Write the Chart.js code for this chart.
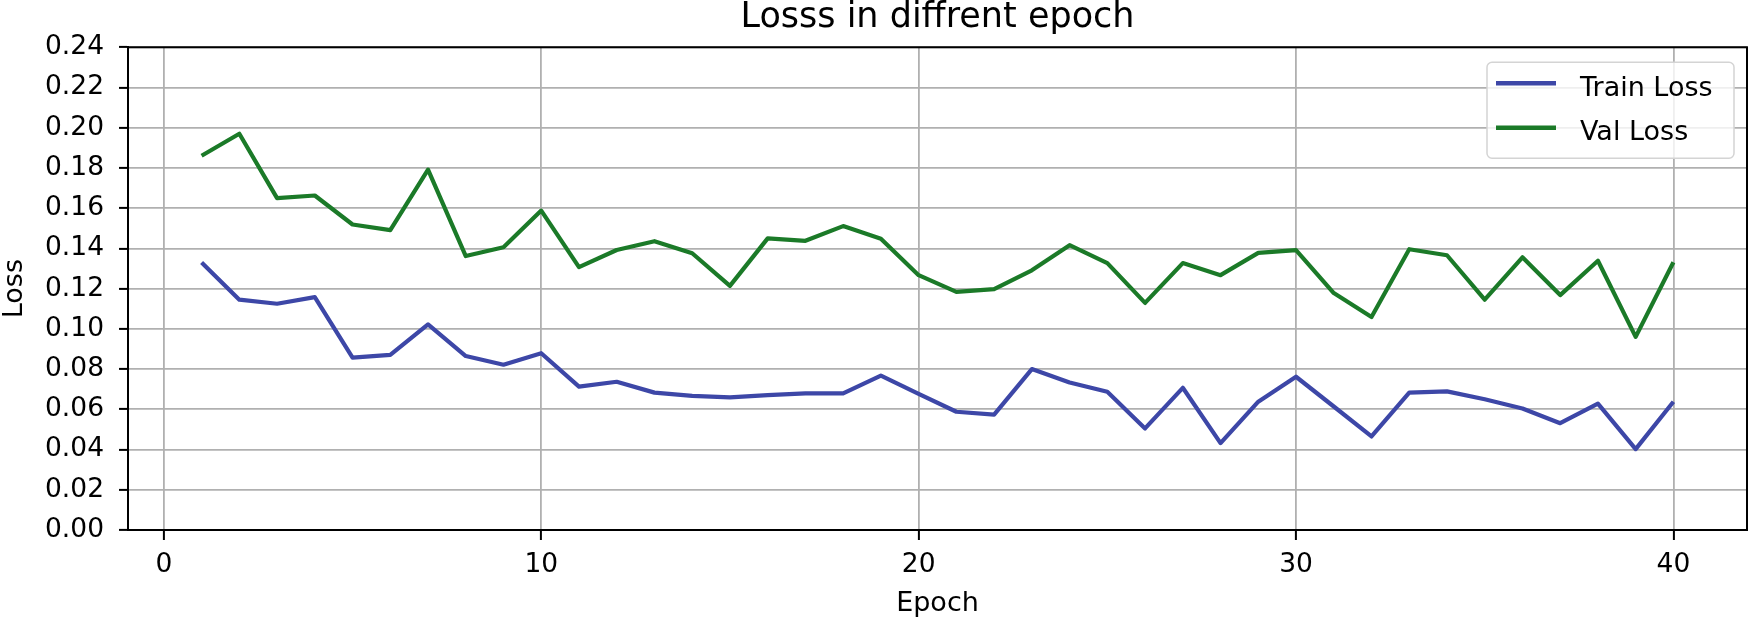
<!DOCTYPE html>
<html>
<head>
<meta charset="utf-8">
<script src="https://cdn.jsdelivr.net/npm/chart.js@4/dist/chart.umd.min.js"></script>
<style>
  html, body { margin: 0; padding: 0; background: #fff; }
  .chart-wrap { width: 1755px; height: 625px; position: relative; }
</style>
</head>
<body>
<div class="chart-wrap"><canvas id="loss-chart"></canvas></div>
<script>
const epochs = [1, 2, 3, 4, 5, 6, 7, 8, 9, 10, 11, 12, 13, 14, 15, 16, 17, 18, 19, 20,
  21, 22, 23, 24, 25, 26, 27, 28, 29, 30, 31, 32, 33, 34, 35, 36, 37, 38, 39, 40]

const trainLoss = [0.1330, 0.1145, 0.1125, 0.1158, 0.0857, 0.0871, 0.1022, 0.0865, 0.0822, 0.0879,
  0.0713, 0.0737, 0.0683, 0.0667, 0.0659, 0.0671, 0.0679, 0.0679, 0.0768, 0.0677,
  0.0588, 0.0574, 0.0800, 0.0733, 0.0687, 0.0505, 0.0707, 0.0432, 0.0638, 0.0762,
  0.0614, 0.0465, 0.0683, 0.0689, 0.0650, 0.0604, 0.0531, 0.0628, 0.0402, 0.0638]

const valLoss = [0.1861, 0.1970, 0.1650, 0.1663, 0.1519, 0.1491, 0.1792, 0.1362, 0.1406, 0.1588,
  0.1307, 0.1392, 0.1436, 0.1376, 0.1214, 0.1450, 0.1438, 0.1511, 0.1448, 0.1267,
  0.1184, 0.1198, 0.1291, 0.1416, 0.1327, 0.1129, 0.1327, 0.1267, 0.1378, 0.1392,
  0.1178, 0.1059, 0.1396, 0.1366, 0.1145, 0.1356, 0.1168, 0.1339, 0.0960, 0.1331]

const xTicks = [0, 10, 20, 30, 40]
const yTicks = [0, 0.02, 0.04, 0.06, 0.08, 0.10, 0.12, 0.14, 0.16, 0.18, 0.20, 0.22, 0.24]

const FONT = 'DejaVu Sans'
const toPoints = (values) => values.map((v, i) => ({x: epochs[i], y: v}))

// black box round the plot area, like the matplotlib spines
const framePlugin = {
  id: 'frame',
  afterDatasetsDraw(chart) {
    const {ctx, chartArea: a} = chart
    ctx.save()
    ctx.strokeStyle = '#000'
    ctx.lineWidth = 2
    ctx.strokeRect(a.left, a.top, a.right - a.left, a.bottom - a.top)
    ctx.restore()
  }
}

// legend drawn inside the plot, upper right
const insideLegend = {
  id: 'insideLegend',
  afterDraw(chart) {
    const {ctx, chartArea: a} = chart
    const w = 247, h = 96
    const x = a.right - 13 - w
    const y = a.top + 15
    ctx.save()
    ctx.beginPath()
    ctx.roundRect(x, y, w, h, 5)
    ctx.fillStyle = 'rgba(255,255,255,0.8)'
    ctx.fill()
    ctx.strokeStyle = '#d4d4d4'
    ctx.lineWidth = 1.5
    ctx.stroke()

    ctx.font = '27px "' + FONT + '"'
    ctx.textBaseline = 'alphabetic'
    ctx.textAlign = 'left'
    chart.data.datasets.forEach((ds, i) => {
      const ly = y + 21 + i * 44.5
      ctx.beginPath()
      ctx.moveTo(x + 9, ly)
      ctx.lineTo(x + 69, ly)
      ctx.strokeStyle = ds.borderColor
      ctx.lineWidth = 4.5
      ctx.lineCap = 'butt'
      ctx.stroke()
      ctx.fillStyle = '#000'
      ctx.fillText(ds.label, x + 93, ly + 12.5)
    })
    ctx.restore()
  }
}

new Chart(document.getElementById('loss-chart'), {
  type: 'line',
  data: {
    datasets: [{
      label: 'Train Loss',
      data: toPoints(trainLoss),
      borderColor: '#3d47a7',
      backgroundColor: '#3d47a7',
      borderWidth: 4.2,
      borderJoinStyle: 'round',
      pointRadius: 0,
      tension: 0,
    },
    {
      label: 'Val Loss',
      data: toPoints(valLoss),
      borderColor: '#1b7a28',
      backgroundColor: '#1b7a28',
      borderWidth: 4.2,
      borderJoinStyle: 'round',
      pointRadius: 0,
      tension: 0,
    }]
  },
  options: {
    animation: false,
    responsive: true,
    maintainAspectRatio: false,
    devicePixelRatio: 1,
    layout: {
      padding: {left: 0, right: 8, top: 0, bottom: 0}
    },
    scales: {
      x: {
        type: 'linear',
        min: -0.95,
        max: 41.95,
        afterBuildTicks: (scale) => { scale.ticks = xTicks.map(v => ({value: v})) },
        afterFit: (scale) => { scale.height = 95 },
        ticks: {
          color: '#000',
          padding: 9,
          maxRotation: 0,
          font: {family: FONT, size: 26.5},
          callback: (value) => String(value),
        },
        grid: {
          color: '#b0b0b0',
          lineWidth: 1.8,
          tickColor: '#000',
          tickWidth: 2,
          tickLength: 10,
        },
        border: {color: '#000', width: 2},
        title: {
          display: true,
          text: 'Epoch',
          color: '#000',
          font: {family: FONT, size: 27, lineHeight: 1.2},
          padding: {top: 0, bottom: 5},
        }
      },
      y: {
        min: 0,
        max: 0.24,
        afterBuildTicks: (scale) => { scale.ticks = yTicks.map(v => ({value: v})) },
        afterFit: (scale) => { scale.width = 128 },
        ticks: {
          color: '#000',
          padding: 15,
          font: {family: FONT, size: 26.5},
          callback: (value) => value.toFixed(2),
        },
        grid: {
          color: '#b0b0b0',
          lineWidth: 1.8,
          tickColor: '#000',
          tickWidth: 2,
          tickLength: 9,
        },
        border: {color: '#000', width: 2},
        title: {
          display: true,
          text: 'Loss',
          color: '#000',
          font: {family: FONT, size: 27, lineHeight: 1.1},
          padding: {top: 0.5, bottom: 0},
        }
      }
    },
    plugins: {
      legend: {display: false},
      tooltip: {enabled: false},
      title: {
        display: true,
        text: 'Losss in diffrent epoch',
        color: '#000',
        fullSize: false,
        font: {family: FONT, size: 35, weight: 'normal', lineHeight: 1},
        padding: {top: 0, bottom: 12.3},
      }
    }
  },
  plugins: [framePlugin, insideLegend]
})
</script>
</body>
</html>
